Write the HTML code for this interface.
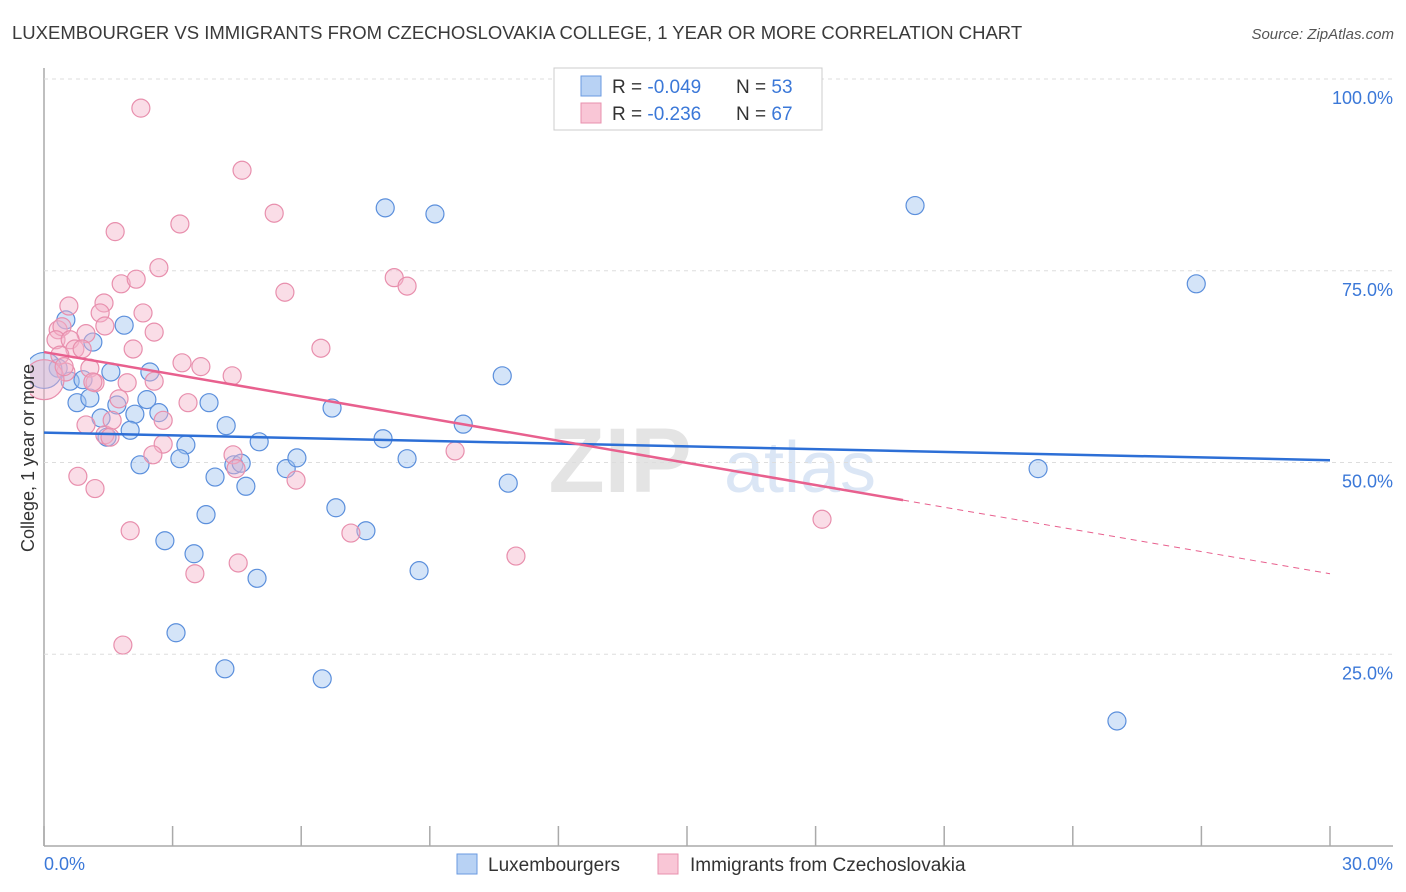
<!DOCTYPE html>
<html><head><meta charset="utf-8"><style>
body{margin:0;background:#fff;font-family:"Liberation Sans",sans-serif;}
#wrap{position:relative;width:1406px;height:892px;overflow:hidden}
</style></head><body>
<div id="wrap">
<svg id="svg" width="1406" height="892" xmlns="http://www.w3.org/2000/svg">
<defs><clipPath id="pc"><rect x="30" y="60" width="1380" height="790"/></clipPath></defs>
<text x="12" y="39" font-size="18.5" fill="#3a3a3a">LUXEMBOURGER VS IMMIGRANTS FROM CZECHOSLOVAKIA COLLEGE, 1 YEAR OR MORE CORRELATION CHART</text>
<text x="1394" y="39" font-size="15" fill="#555" text-anchor="end" font-style="italic">Source: ZipAtlas.com</text>
<text x="620" y="492" font-size="92" fill="#e4e4e4" font-weight="bold" text-anchor="middle">ZIP</text>
<text x="800" y="492" font-size="72" fill="#dbe6f5" text-anchor="middle">atlas</text>
<g id="grid"></g>
<g id="marks" clip-path="url(#pc)"></g>
<g id="trend"></g>
<text x="0" y="0" transform="translate(34,458) rotate(-90)" font-size="18" fill="#333" text-anchor="middle">College, 1 year or more</text>
<g>
<rect x="554" y="68" width="268" height="62" fill="#fff" stroke="#ccc"/>
<rect x="581" y="76" width="20" height="20" fill="#b8d2f4" stroke="#6a9ae0"/>
<rect x="581" y="103" width="20" height="20" fill="#f9c6d6" stroke="#e890ae"/>
<text x="612" y="93" font-size="19" fill="#333">R = <tspan fill="#3b78d8">-0.049</tspan></text>
<text x="736" y="93" font-size="19" fill="#333">N = <tspan fill="#3b78d8">53</tspan></text>
<text x="612" y="120" font-size="19" fill="#333">R =  <tspan fill="#3b78d8">-0.236</tspan></text>
<text x="736" y="120" font-size="19" fill="#333">N = <tspan fill="#3b78d8">67</tspan></text>
</g>
<g>
<rect x="457" y="854" width="20" height="20" fill="#b8d2f4" stroke="#6a9ae0"/>
<text x="488" y="871" font-size="19" fill="#333">Luxembourgers</text>
<rect x="658" y="854" width="20" height="20" fill="#f9c6d6" stroke="#e890ae"/>
<text x="690" y="871" font-size="19" fill="#333">Immigrants from Czechoslovakia</text>
</g>
</svg>
</div>
<script>
const blueX=[0.51,1.14,1.87,0.33,0.61,0.91,1.56,2.47,0.77,1.07,1.70,2.40,1.33,2.12,2.68,3.85,2.01,1.47,3.31,4.25,5.02,2.24,3.17,3.99,4.43,4.60,4.71,5.65,5.90,3.78,2.82,3.50,4.97,3.08,4.22,6.49,6.72,6.81,7.51,7.91,7.96,8.47,8.75,9.12,9.78,10.69,10.83,20.32,23.19,26.88,25.03,0.0];
const blueY=[68.6,65.7,67.9,62.3,60.6,60.8,61.8,61.8,57.8,58.4,57.5,58.2,55.8,56.3,56.5,57.8,54.2,53.3,52.3,54.8,52.7,49.7,50.5,48.1,49.7,49.9,46.9,49.2,50.6,43.2,39.8,38.1,34.9,27.8,23.1,21.8,57.1,44.1,41.1,53.1,83.2,50.5,35.9,82.4,55.0,61.3,47.3,83.5,49.2,73.3,16.3,62.0];
const blueR=[9,9,9,9,9,9,9,9,9,9,9,9,9,9,9,9,9,9,9,9,9,9,9,9,9,9,9,9,9,9,9,9,9,9,9,9,9,9,9,9,9,9,9,9,9,9,9,9,9,9,9,18];
const pinkX=[2.26,4.62,5.37,3.17,1.66,2.68,1.80,2.15,0.58,1.40,5.62,8.17,8.47,1.31,2.31,2.57,0.33,0.42,0.28,0.98,0.61,0.72,0.89,1.42,2.08,0.37,6.46,3.22,3.66,4.39,1.07,1.19,1.94,2.57,0.51,1.75,3.36,1.14,0.98,1.42,1.59,2.78,2.78,2.54,4.41,4.48,5.88,0.79,1.19,2.01,7.16,4.53,3.52,1.84,9.59,11.01,18.15,0.0,0.47,1.54];
const pinkY=[96.2,88.1,82.5,81.1,80.1,75.4,73.3,73.9,70.4,70.8,72.2,74.1,73.0,69.5,69.5,67.0,67.3,67.7,66.0,66.8,66.0,64.8,64.8,67.8,64.8,64.0,64.9,63.0,62.5,61.3,62.3,60.4,60.4,60.6,61.8,58.3,57.8,60.5,54.9,53.6,55.5,55.5,52.4,51.0,51.0,49.2,47.7,48.2,46.6,41.1,40.8,36.9,35.5,26.2,51.5,37.8,42.6,60.8,62.5,53.3];
const pinkR=[9,9,9,9,9,9,9,9,9,9,9,9,9,9,9,9,9,9,9,9,9,9,9,9,9,9,9,9,9,9,9,9,9,9,9,9,9,9,9,9,9,9,9,9,9,9,9,9,9,9,9,9,9,9,9,9,9,20,9,9];
const xTicks=[0,3,6,9,12,15,18,21,24,27,30];
const yTicks=[25,50,75,100];
const yTickLabels=["25.0%","50.0%","75.0%","100.0%"];
const blueTrend=[53.9,50.3];
const pinkTrend=[64.4,35.5];
const pinkSolidEnd=20.04;

const NS="http://www.w3.org/2000/svg";
const sx=v=>44+v/30*1286;
const sy=v=>846-v/100*767;
function mk(tag,attrs,parent){const e=document.createElementNS(NS,tag);for(const k in attrs)e.setAttribute(k,attrs[k]);parent.appendChild(e);return e;}
const grid=document.getElementById('grid'),marks=document.getElementById('marks'),trend=document.getElementById('trend');
let l=mk('line',{x1:44,y1:68,x2:44,y2:846,stroke:'#aaa','stroke-width':1.5},grid);


l=mk('line',{x1:44,y1:846,x2:1393,y2:846,stroke:'#aaa','stroke-width':1.5},grid);


yTicks.forEach((t,i)=>{
 const g=mk('line',{x1:44,y1:sy(t),x2:1393,y2:sy(t),stroke:'#ddd','stroke-dasharray':'4,4'},grid);
 
 
 const tx=mk('text',{x:1393,y:sy(t)+25,'font-size':18,fill:'#3b78d8','text-anchor':'end'},grid);
 tx.textContent=yTickLabels[i];
 
 
});
xTicks.forEach(t=>{
 const k=mk('line',{x1:sx(t),y1:826,x2:sx(t),y2:846,stroke:'#aaa','stroke-width':1.5},grid);
 
 
});
let xt=mk('text',{x:44,y:870,'font-size':18,fill:'#3b78d8'},grid);xt.textContent='0.0%';


xt=mk('text',{x:1393,y:870,'font-size':18,fill:'#3b78d8','text-anchor':'end'},grid);xt.textContent='30.0%';


blueX.forEach((x,i)=>{
 const c=mk('circle',{cx:sx(x),cy:sy(blueY[i]),r:blueR[i],fill:'rgba(160,195,240,0.45)',stroke:'#5b8fdc','stroke-width':1.2},marks);
 
 
});
pinkX.forEach((x,i)=>{
 const c=mk('circle',{cx:sx(x),cy:sy(pinkY[i]),r:pinkR[i],fill:'rgba(244,180,202,0.45)',stroke:'#e88fad','stroke-width':1.2},marks);
 
 
});
const bl=mk('line',{x1:sx(0),y1:sy(blueTrend[0]),x2:sx(30),y2:sy(blueTrend[1]),stroke:'#2d6fd6','stroke-width':2.5},trend);


const pe=pinkTrend[0]+(pinkTrend[1]-pinkTrend[0])*pinkSolidEnd/30;
const pl=mk('line',{x1:sx(0),y1:sy(pinkTrend[0]),x2:sx(pinkSolidEnd),y2:sy(pe),stroke:'#e8608e','stroke-width':2.5},trend);


const pd=mk('line',{x1:sx(pinkSolidEnd),y1:sy(pe),x2:sx(30),y2:sy(pinkTrend[1]),stroke:'#e8608e','stroke-width':1,'stroke-dasharray':'6,5'},trend);


</script>
</body></html>
